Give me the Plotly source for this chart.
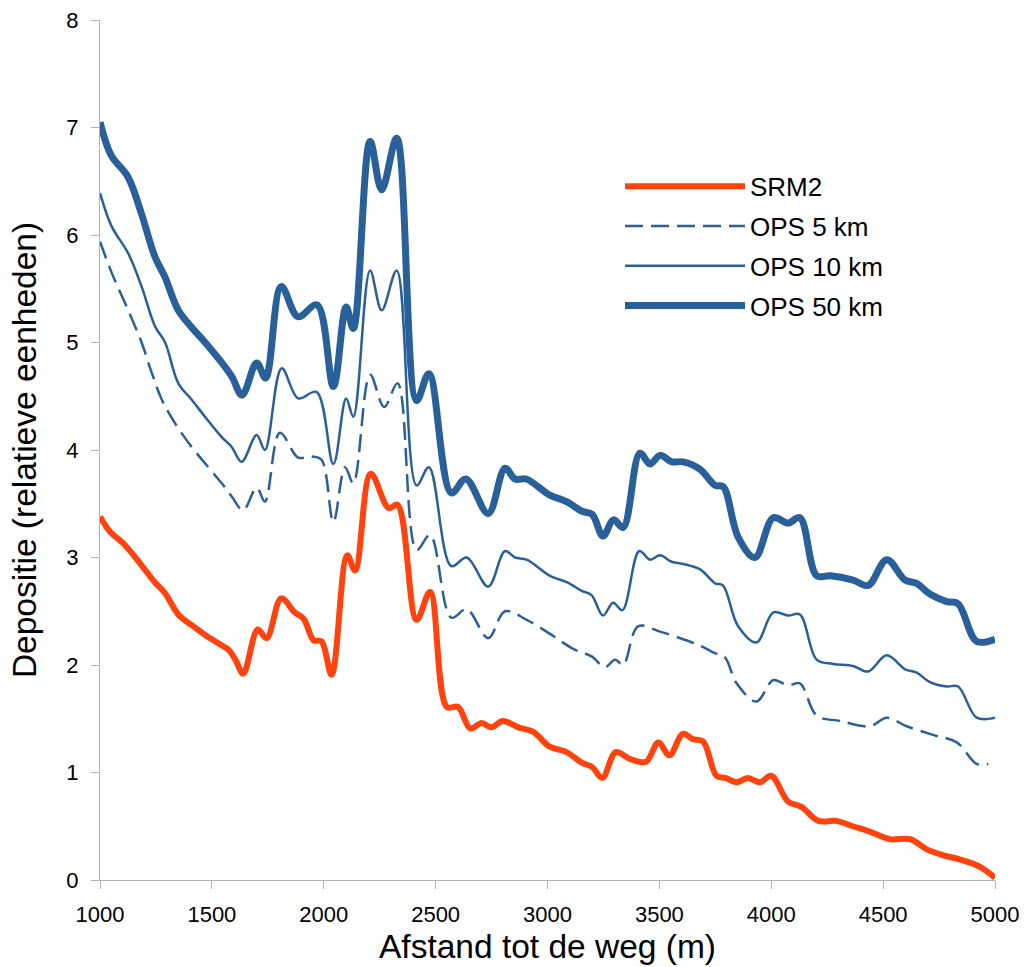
import plotly.graph_objects as go

# ---- data ----
srm2_x = [1000, 1045, 1105, 1185, 1245, 1290, 1350, 1410, 1470, 1530, 1575, 1605, 1640,
          1705, 1745, 1810, 1870, 1910, 1955, 1990, 2035, 2105, 2140, 2210, 2290, 2330,
          2415, 2475, 2550, 2600, 2655, 2705, 2750, 2800, 2870, 2935, 3010, 3085, 3155,
          3200, 3245, 3305, 3365, 3440, 3495, 3545, 3605, 3650, 3695, 3755, 3795, 3845,
          3895, 3950, 4000, 4075, 4135, 4210, 4290, 4365, 4440, 4530, 4620, 4700, 4770,
          4845, 4935, 5000]
srm2_y = [3.38, 3.24, 3.13, 2.93, 2.77, 2.67, 2.47, 2.37, 2.28, 2.20, 2.14, 2.05, 1.92,
          2.33, 2.25, 2.62, 2.49, 2.43, 2.23, 2.22, 1.91, 3.02, 2.88, 3.78, 3.46, 3.49,
          2.42, 2.68, 1.61, 1.61, 1.41, 1.46, 1.42, 1.48, 1.42, 1.38, 1.24, 1.19, 1.09,
          1.05, 0.95, 1.19, 1.13, 1.10, 1.28, 1.16, 1.36, 1.31, 1.29, 0.97, 0.95, 0.91,
          0.95, 0.91, 0.97, 0.73, 0.68, 0.55, 0.55, 0.50, 0.45, 0.38, 0.38, 0.28, 0.23,
          0.19, 0.12, 0.02]

ops5_x = [1000, 1052, 1126, 1186, 1231, 1276, 1335, 1409, 1484, 1544, 1588, 1640, 1700,
          1737, 1804, 1886, 1946, 1990, 2043, 2095, 2132, 2207, 2270, 2330, 2415, 2475,
          2570, 2639, 2735, 2810, 2907, 3011, 3115, 3197, 3257, 3302, 3338, 3405, 3503,
          3606, 3682, 3749, 3793, 3845, 3934, 4009, 4075, 4128, 4203, 4307, 4441, 4516,
          4605, 4723, 4829, 4918, 4970]
ops5_y = [5.94, 5.65, 5.30, 5.00, 4.72, 4.47, 4.25, 4.03, 3.84, 3.69, 3.57, 3.44, 3.65,
          3.52, 4.16, 3.93, 3.94, 3.91, 3.33, 3.84, 3.69, 4.70, 4.40, 4.62, 3.07, 3.21,
          2.44, 2.52, 2.25, 2.50, 2.42, 2.29, 2.15, 2.08, 1.98, 2.05, 2.00, 2.36, 2.31,
          2.24, 2.18, 2.11, 2.07, 1.83, 1.66, 1.86, 1.81, 1.83, 1.53, 1.48, 1.43, 1.51,
          1.43, 1.35, 1.28, 1.08, 1.08]

ops10_x = [1000, 1052, 1126, 1186, 1246, 1291, 1350, 1409, 1469, 1544, 1588, 1633, 1700,
           1737, 1812, 1886, 1968, 2043, 2100, 2132, 2207, 2259, 2326, 2415, 2470, 2570,
           2639, 2735, 2810, 2855, 2907, 3011, 3086, 3153, 3197, 3248, 3293, 3335, 3410,
           3458, 3503, 3555, 3606, 3682, 3749, 3784, 3852, 3934, 4009, 4075, 4128, 4203,
           4276, 4366, 4433, 4516, 4598, 4650, 4709, 4784, 4835, 4918, 5000]
ops10_y = [6.39, 6.08, 5.83, 5.52, 5.15, 5.00, 4.62, 4.47, 4.31, 4.12, 4.03, 3.89, 4.14,
           4.00, 4.76, 4.48, 4.54, 3.87, 4.48, 4.31, 5.67, 5.30, 5.67, 3.67, 3.84, 2.92,
           3.00, 2.73, 3.06, 3.00, 2.98, 2.83, 2.77, 2.69, 2.65, 2.46, 2.58, 2.51, 3.06,
           2.98, 3.02, 2.96, 2.94, 2.89, 2.76, 2.74, 2.36, 2.21, 2.49, 2.46, 2.47, 2.05,
           2.01, 1.99, 1.94, 2.09, 1.96, 1.93, 1.84, 1.80, 1.80, 1.51, 1.51]

ops50_x = [1000, 1050, 1125, 1185, 1245, 1290, 1350, 1410, 1470, 1545, 1590, 1635, 1700,
           1740, 1810, 1885, 1970, 2043, 2100, 2132, 2207, 2259, 2326, 2415, 2470, 2570,
           2635, 2735, 2810, 2855, 2905, 3010, 3085, 3155, 3200, 3248, 3295, 3338, 3413,
           3458, 3503, 3555, 3606, 3682, 3750, 3785, 3852, 3927, 4009, 4075, 4128, 4203,
           4263, 4366, 4433, 4516, 4598, 4650, 4709, 4784, 4835, 4918, 5000]
ops50_y = [7.05, 6.74, 6.54, 6.20, 5.80, 5.61, 5.30, 5.14, 5.00, 4.81, 4.68, 4.51, 4.81,
           4.67, 5.52, 5.24, 5.35, 4.59, 5.33, 5.13, 6.87, 6.42, 6.90, 4.46, 4.71, 3.60,
           3.73, 3.41, 3.83, 3.73, 3.73, 3.58, 3.52, 3.43, 3.40, 3.20, 3.35, 3.28, 3.97,
           3.87, 3.95, 3.89, 3.89, 3.82, 3.67, 3.66, 3.19, 3.00, 3.37, 3.32, 3.37, 2.83,
           2.83, 2.79, 2.74, 2.98, 2.79, 2.76, 2.66, 2.59, 2.57, 2.22, 2.24]

x_ticks = [1000, 1500, 2000, 2500, 3000, 3500, 4000, 4500, 5000]
y_ticks = [0, 1, 2, 3, 4, 5, 6, 7, 8]

ORANGE = "#ff420e"
BLUE = "#2a6099"
FONT = "Liberation Sans, Arial, sans-serif"

fig = go.Figure()
fig.add_trace(go.Scatter(x=srm2_x, y=srm2_y, name="SRM2", mode="lines", legendgroup="g1",
                         line=dict(color=ORANGE, width=6, shape="spline", smoothing=1.0)))
fig.add_trace(go.Scatter(x=ops5_x, y=ops5_y, name="OPS 5 km", mode="lines", legendgroup="g2",
                         line=dict(color=BLUE, width=2.5, dash="18px,8px", shape="spline", smoothing=1.0)))
fig.add_trace(go.Scatter(x=ops10_x, y=ops10_y, name="OPS 10 km", mode="lines", legendgroup="g3",
                         line=dict(color=BLUE, width=2.5, shape="spline", smoothing=1.0)))
fig.add_trace(go.Scatter(x=ops50_x, y=ops50_y, name="OPS 50 km", mode="lines", legendgroup="g4",
                         line=dict(color=BLUE, width=7, shape="spline", smoothing=1.0)))

axis_common = dict(showgrid=False, zeroline=False, showline=True, linecolor="#b3b3b3",
                   linewidth=1, ticks="outside", ticklen=8, tickcolor="#b3b3b3",
                   tickfont=dict(family=FONT, size=22, color="#000000"))

fig.update_xaxes(range=[1000, 5000], tickvals=x_ticks, ticktext=[str(v) for v in x_ticks],
                 title=dict(text="Afstand tot de weg (m)", font=dict(family=FONT, size=33.5, color="#000"),
                            standoff=8),
                 ticklabelstandoff=7, **axis_common)
fig.update_yaxes(range=[0, 8], tickvals=y_ticks, ticktext=[str(v) for v in y_ticks],
                 title=dict(text="Depositie (relatieve eenheden)", font=dict(family=FONT, size=33.5, color="#000"),
                            standoff=19),
                 ticklabelstandoff=8, **axis_common)

fig.update_layout(
    width=1026, height=967,
    margin=dict(l=100, r=31, t=20, b=87, autoexpand=False),
    plot_bgcolor="#ffffff", paper_bgcolor="#ffffff",
    font=dict(family=FONT, size=22, color="#000000"),
    showlegend=True,
    legend=dict(x=0.581, y=0.834, xanchor="left", yanchor="top", bgcolor="rgba(0,0,0,0)",
                font=dict(family=FONT, size=26), itemwidth=120, tracegroupgap=3,
                traceorder="grouped"),
)

fig.write_html("out.html")
